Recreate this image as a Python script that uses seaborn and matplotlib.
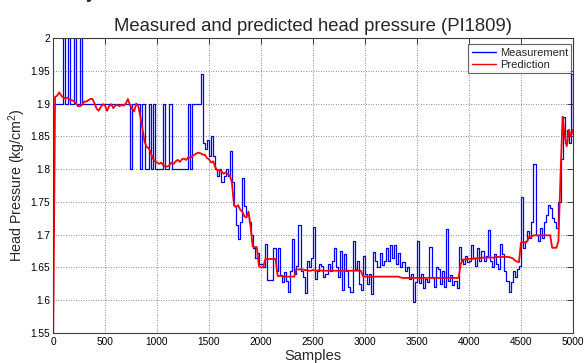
import numpy as np
import pandas as pd
import matplotlib
matplotlib.use("Agg")
import matplotlib.pyplot as plt
import seaborn as sns

# Sample index (every 20th sample of the PI1809 record)
samples = np.arange(0, 5001, 20)

# Measured head pressure, kg/cm^2
measurement = [
    1.90, 1.90, 1.90, 1.90, 1.90, 2.00, 1.90, 2.00, 1.90, 1.90,
    2.00, 1.90, 1.90, 2.00, 1.90, 1.90, 1.90, 1.90, 1.90, 1.90,
    1.90, 1.90, 1.90, 1.90, 1.90, 1.90, 1.90, 1.90, 1.90, 1.90,
    1.90, 1.90, 1.90, 1.90, 1.90, 1.90, 1.90, 1.80, 1.90, 1.90,
    1.90, 1.90, 1.80, 1.90, 1.80, 1.80, 1.90, 1.80, 1.90, 1.80,
    1.80, 1.80, 1.80, 1.90, 1.80, 1.80, 1.90, 1.80, 1.80, 1.80,
    1.80, 1.80, 1.80, 1.80, 1.80, 1.90, 1.80, 1.90, 1.90, 1.90,
    1.90, 1.945, 1.84, 1.83, 1.845, 1.82, 1.85, 1.82, 1.80, 1.79,
    1.80, 1.78, 1.79, 1.80, 1.79, 1.828, 1.78, 1.743, 1.714, 1.694,
    1.72, 1.787, 1.744, 1.73, 1.72, 1.70, 1.68, 1.665, 1.672, 1.655,
    1.656, 1.651, 1.686, 1.631, 1.631, 1.631, 1.679, 1.645, 1.68, 1.638,
    1.628, 1.643, 1.63, 1.613, 1.645, 1.694, 1.64, 1.652, 1.714, 1.645,
    1.635, 1.611, 1.66, 1.65, 1.665, 1.711, 1.633, 1.645, 1.655, 1.652,
    1.635, 1.64, 1.655, 1.645, 1.66, 1.68, 1.65, 1.635, 1.675, 1.615,
    1.67, 1.645, 1.62, 1.612, 1.691, 1.648, 1.66, 1.625, 1.615, 1.668,
    1.64, 1.625, 1.64, 1.61, 1.674, 1.66, 1.65, 1.672, 1.654, 1.66,
    1.679, 1.66, 1.684, 1.664, 1.684, 1.655, 1.672, 1.65, 1.658, 1.645,
    1.65, 1.633, 1.64, 1.598, 1.628, 1.691, 1.626, 1.64, 1.618, 1.632,
    1.628, 1.681, 1.635, 1.62, 1.65, 1.648, 1.625, 1.645, 1.62, 1.709,
    1.63, 1.638, 1.623, 1.63, 1.618, 1.681, 1.662, 1.655, 1.668, 1.658,
    1.66, 1.684, 1.665, 1.652, 1.68, 1.66, 1.675, 1.66, 1.668, 1.707,
    1.66, 1.65, 1.67, 1.655, 1.648, 1.686, 1.67, 1.645, 1.63, 1.613,
    1.628, 1.645, 1.635, 1.648, 1.652, 1.757, 1.68, 1.69, 1.705, 1.695,
    1.72, 1.808, 1.70, 1.69, 1.71, 1.695, 1.72, 1.73, 1.745, 1.74,
    1.725, 1.72, 1.71, 1.75, 1.815, 1.88, 1.84, 1.86, 1.84, 1.945,
    1.86,
]

# Model prediction, kg/cm^2
prediction = [
    1.50, 1.910, 1.912, 1.917, 1.912, 1.909, 1.908, 1.909, 1.906, 1.905,
    1.904, 1.900, 1.896, 1.896, 1.898, 1.903, 1.903, 1.905, 1.907, 1.907,
    1.900, 1.892, 1.889, 1.895, 1.899, 1.897, 1.889, 1.896, 1.899, 1.893,
    1.897, 1.898, 1.896, 1.898, 1.897, 1.900, 1.907, 1.898, 1.892, 1.888,
    1.900, 1.896, 1.880, 1.862, 1.842, 1.834, 1.832, 1.825, 1.816, 1.812,
    1.810, 1.808, 1.810, 1.806, 1.804, 1.804, 1.806, 1.810, 1.808, 1.812,
    1.814, 1.811, 1.815, 1.816, 1.814, 1.818, 1.817, 1.820, 1.822, 1.824,
    1.825, 1.824, 1.822, 1.822, 1.817, 1.815, 1.810, 1.812, 1.803, 1.798,
    1.799, 1.797, 1.793, 1.795, 1.792, 1.790, 1.780, 1.745, 1.742, 1.745,
    1.738, 1.735, 1.728, 1.726, 1.735, 1.712, 1.682, 1.681, 1.681, 1.652,
    1.650, 1.650, 1.662, 1.663, 1.663, 1.663, 1.663, 1.663, 1.637, 1.637,
    1.637, 1.636, 1.636, 1.636, 1.636, 1.636, 1.636, 1.647, 1.647, 1.647,
    1.647, 1.646, 1.646, 1.645, 1.645, 1.646, 1.645, 1.645, 1.646, 1.645,
    1.645, 1.645, 1.645, 1.645, 1.645, 1.645, 1.645, 1.645, 1.645, 1.645,
    1.645, 1.645, 1.645, 1.645, 1.645, 1.645, 1.645, 1.645, 1.645, 1.637,
    1.636, 1.636, 1.636, 1.636, 1.636, 1.636, 1.636, 1.636, 1.636, 1.636,
    1.636, 1.636, 1.636, 1.636, 1.636, 1.636, 1.636, 1.635, 1.634, 1.634,
    1.634, 1.634, 1.634, 1.634, 1.634, 1.634, 1.634, 1.634, 1.634, 1.634,
    1.634, 1.634, 1.634, 1.634, 1.634, 1.634, 1.634, 1.634, 1.634, 1.634,
    1.634, 1.634, 1.634, 1.634, 1.634, 1.634, 1.655, 1.662, 1.662, 1.663,
    1.663, 1.663, 1.663, 1.664, 1.664, 1.664, 1.665, 1.665, 1.665, 1.665,
    1.665, 1.665, 1.665, 1.666, 1.666, 1.666, 1.666, 1.666, 1.666, 1.666,
    1.665, 1.664, 1.661, 1.659, 1.658, 1.688, 1.688, 1.688, 1.690, 1.697,
    1.697, 1.699, 1.699, 1.699, 1.699, 1.699, 1.699, 1.699, 1.699, 1.699,
    1.680, 1.680, 1.680, 1.690, 1.790, 1.880, 1.850, 1.835, 1.860, 1.850,
    1.860,
]

x_ticks = [0, 500, 1000, 1500, 2000, 2500, 3000, 3500, 4000, 4500, 5000]
y_ticks = [1.55, 1.6, 1.65, 1.7, 1.75, 1.8, 1.85, 1.9, 1.95, 2.0]

df = pd.DataFrame({"Samples": samples,
                   "Measurement": measurement,
                   "Prediction": prediction})

sns.set_style("white")
plt.rcParams["font.family"] = ["Liberation Sans", "DejaVu Sans"]
plt.rcParams["mathtext.default"] = "regular"

edge = "#3c3c3c"
fig = plt.figure(figsize=(5.84, 3.63), dpi=100)
ax = fig.add_axes([53 / 584, 30 / 363, 520 / 584, 295 / 363])

sns.lineplot(data=df, x="Samples", y="Measurement", ax=ax, color="#0000ff",
             lw=0.9, drawstyle="steps-post", estimator=None,
             label="Measurement")
sns.lineplot(data=df, x="Samples", y="Prediction", ax=ax, color="#ff0000",
             lw=1.3, estimator=None, label="Prediction")

ax.set_xlim(0, 5000)
ax.set_ylim(1.55, 2.0)
ax.set_xticks(x_ticks)
ax.set_yticks(y_ticks)
ax.set_xticklabels([f"{t:g}" for t in x_ticks])
ax.set_yticklabels([f"{t:g}" for t in y_ticks])
ax.tick_params(direction="in", length=4, width=0.7, colors=edge,
               labelcolor="black", labelsize=7.3, top=True, right=True,
               pad=3)
ax.tick_params(axis="y", pad=2)
ax.grid(True, linestyle=(0, (1, 2)), color="#666666", linewidth=0.6)
for sp in ax.spines.values():
    sp.set_color(edge)
    sp.set_linewidth(0.8)

ax.set_title("Measured and predicted head pressure (PI1809)",
             fontsize=13.3, pad=5)
ax.set_xlabel("Samples", fontsize=10.5, labelpad=1)
ax.set_ylabel("Head Pressure (kg/cm$^2$)", fontsize=10.3, labelpad=2)

leg = ax.legend(loc="upper right", bbox_to_anchor=(0.997, 0.978),
                borderaxespad=0, fontsize=8, frameon=True, fancybox=False,
                handlelength=2.2, handletextpad=0.35, labelspacing=0.2,
                borderpad=0.3)
leg.get_frame().set_edgecolor(edge)
leg.get_frame().set_linewidth(0.8)
for line in leg.get_lines():
    line.set_linewidth(1.0)

fig.text(86 / 584, 1 + 1.5 / 363, "y", fontsize=13, fontweight="bold",
         va="baseline", ha="left")

fig.savefig("out.png", dpi=100)
